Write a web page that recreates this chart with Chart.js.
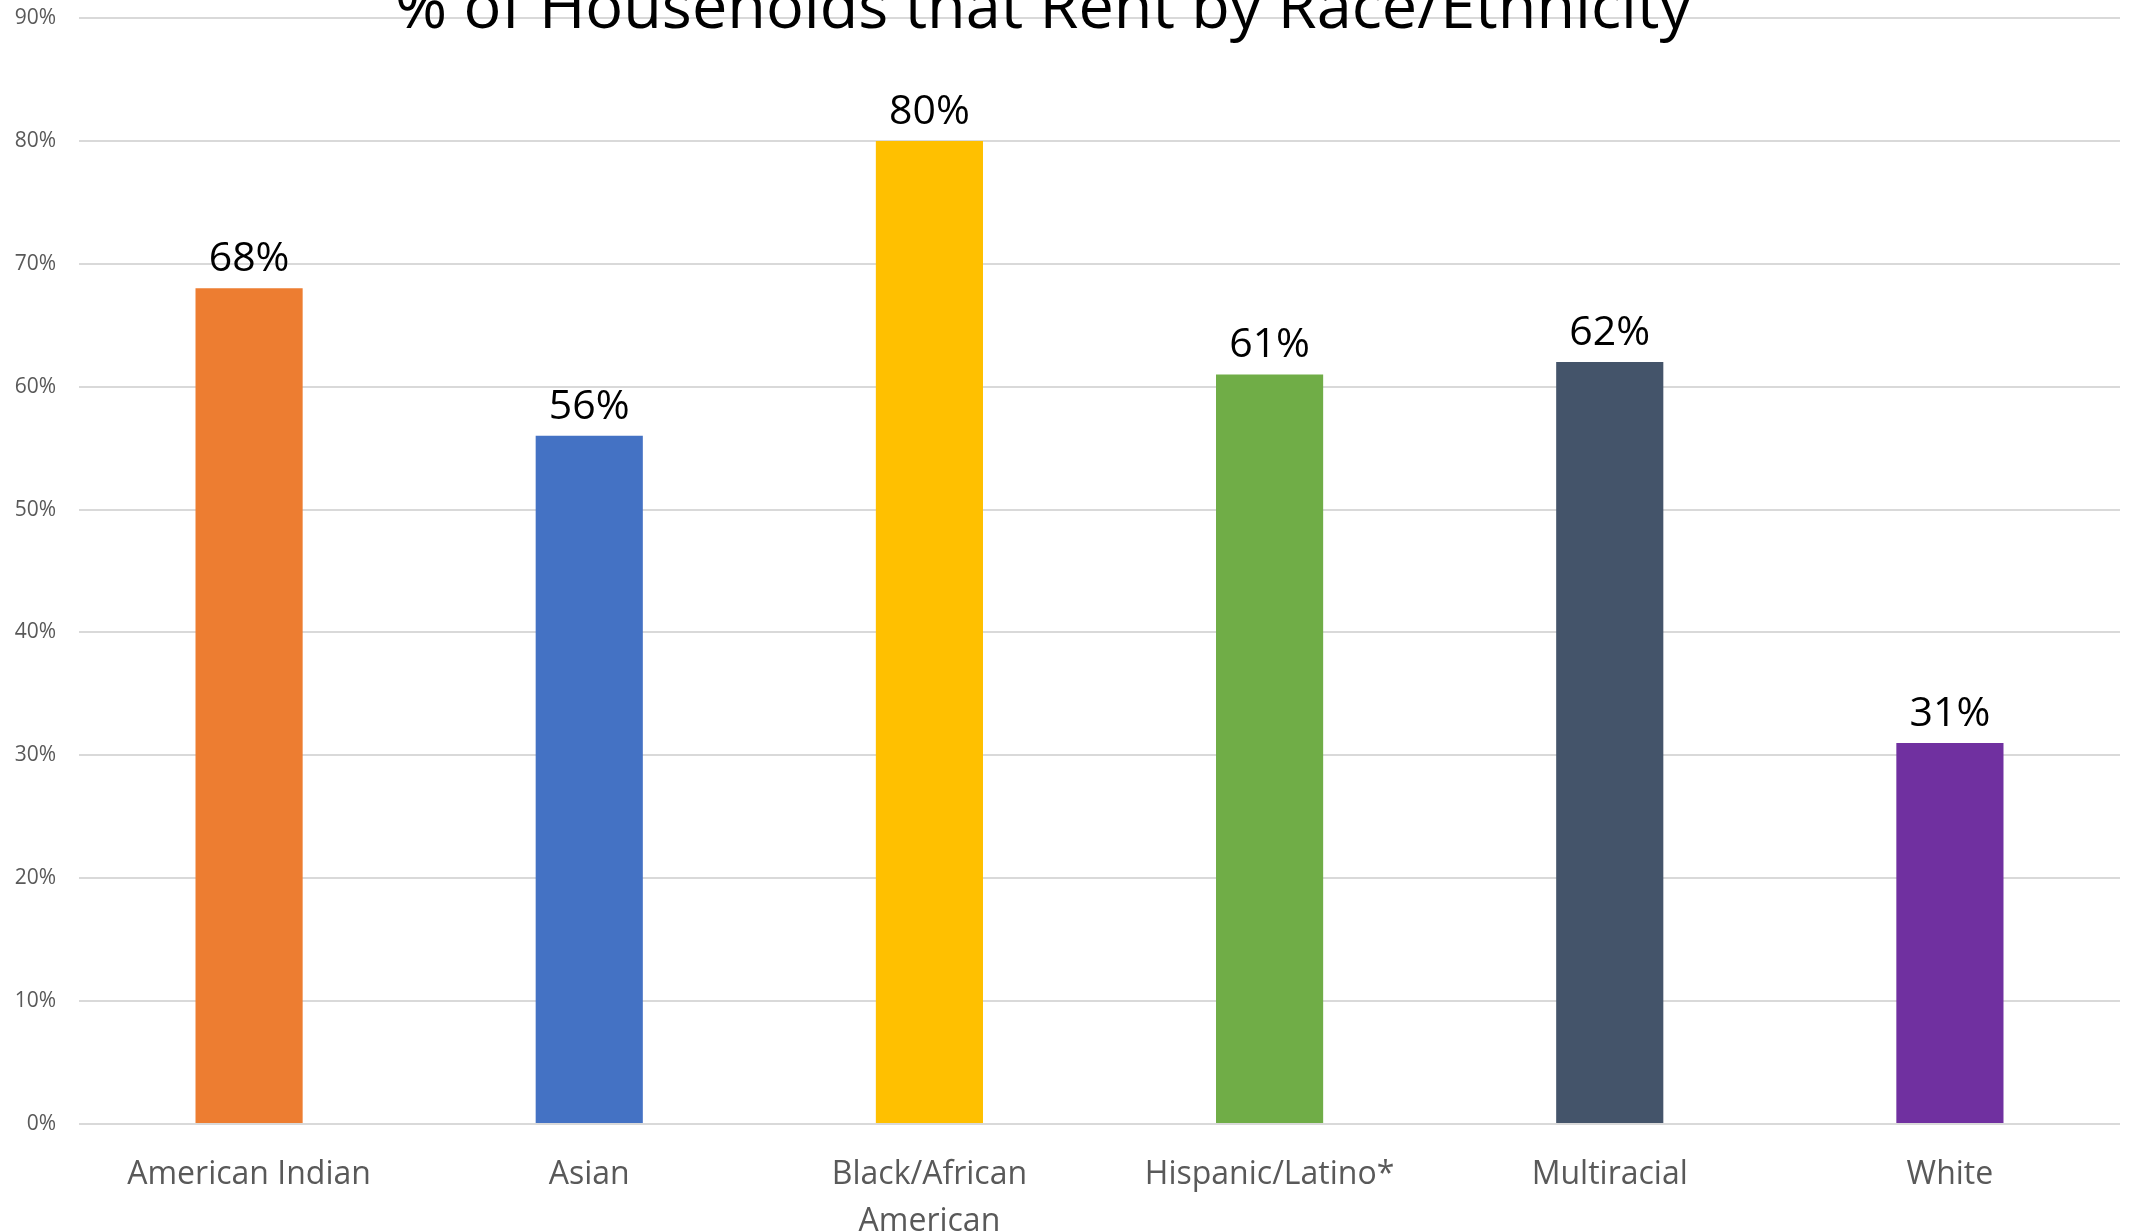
<!DOCTYPE html>
<html lang="en">
<head>
    <meta charset="UTF-8">
    <title>% of Households that Rent by Race/Ethnicity</title>
    <script src="https://cdn.jsdelivr.net/npm/chart.js@4.4.1/dist/chart.umd.min.js"></script>
    <style>
        body { margin: 0; background: #fff; }
        canvas { display: block; }
    </style>
</head>
<body>
    <canvas id="rentChart" width="2131" height="1232"></canvas>

    <script>
      // data
      const groups = ['American Indian', 'Asian', ['Black/African', 'American'], 'Hispanic/Latino*', 'Multiracial', 'White'];
      const rentShare = [68, 56, 80, 61, 62, 31];
      const barColors = ['#ED7D31', '#4472C4', '#FFC000', '#70AD47', '#44546A', '#7030A0'];
      const yTicks = [0, 10, 20, 30, 40, 50, 60, 70, 80, 90];
      const chartTitle = '% of Households that Rent by Race/Ethnicity';

      const fontName = '"Open Sans", "Liberation Sans", sans-serif';

      // values above the bars
      const valueLabels = {
        id: 'valueLabels',
        afterDatasetsDraw(chart) {
          const ctx = chart.ctx;
          const meta = chart.getDatasetMeta(0);
          ctx.save();
          ctx.font = '41px ' + fontName;
          ctx.fillStyle = '#000';
          ctx.textAlign = 'center';
          ctx.textBaseline = 'alphabetic';
          meta.data.forEach((bar, i) => {
            ctx.fillText(rentShare[i] + '%', bar.x, bar.y - 17);
          });
          ctx.restore();
        }
      };

      // title sits partly above the top edge, like in the original
      const topTitle = {
        id: 'topTitle',
        afterDraw(chart) {
          const ctx = chart.ctx;
          ctx.save();
          ctx.font = '63px ' + fontName;
          ctx.fillStyle = '#000';
          ctx.textAlign = 'center';
          ctx.textBaseline = 'alphabetic';
          ctx.fillText(chartTitle, 1043, 28);
          ctx.restore();
        }
      };

      new Chart(document.getElementById('rentChart').getContext('2d'), {
        type: 'bar',
        data: {
          labels: groups,
          datasets: [{
            data: rentShare,
            backgroundColor: barColors,
            borderWidth: 0,
            barPercentage: 0.315,
            categoryPercentage: 1
          }]
        },
        options: {
          responsive: false,
          animation: false,
          layout: { padding: { top: 18, right: 11, left: 0, bottom: 0 } },
          plugins: {
            legend: { display: false },
            title: { display: false },
            tooltip: { enabled: false }
          },
          scales: {
            x: {
              grid: { display: false, drawTicks: false },
              border: { display: false },
              ticks: {
                color: '#595959',
                padding: 27,
                maxRotation: 0,
                autoSkip: false,
                font: { family: fontName, size: 32, lineHeight: 1.48 }
              },
              afterFit(scale) {
                scale.height = 108;
                scale.paddingLeft = 0;
                scale.paddingRight = 0;
              }
            },
            y: {
              min: 0,
              max: 90,
              afterBuildTicks(scale) { scale.ticks = yTicks.map(v => ({ value: v })); },
              grid: { color: '#D9D9D9', lineWidth: 2, drawTicks: false },
              border: { display: false },
              ticks: {
                color: '#595959',
                padding: 23,
                font: { family: fontName, size: 21 },
                callback: v => v + '%'
              },
              afterFit(scale) {
                scale.width = 79;
                scale.paddingTop = 0;
                scale.paddingBottom = 0;
              }
            }
          }
        },
        plugins: [valueLabels, topTitle]
      });
    </script>
</body>
</html>
